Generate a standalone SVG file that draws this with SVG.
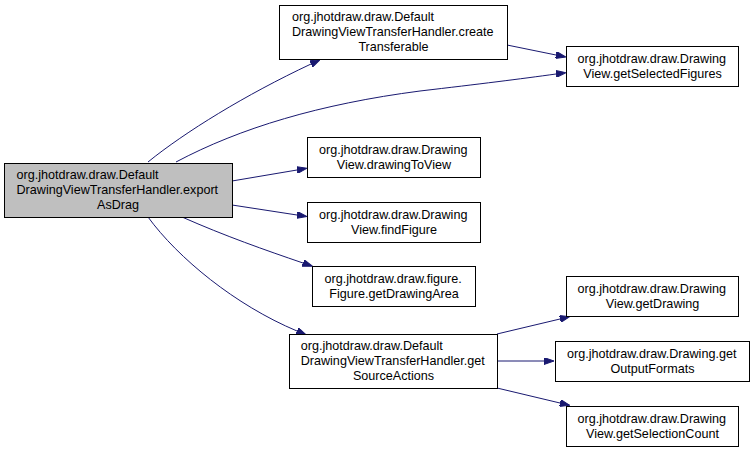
<svg xmlns="http://www.w3.org/2000/svg" width="755" height="453" viewBox="0 0 755 453">
<style>
.n rect{fill:#fff;stroke:#000;stroke-width:1}
.n.h rect{fill:#bfbfbf}
.n text{font-family:"Liberation Sans",Arial,Helvetica,sans-serif;font-size:12.6px;fill:#000;text-anchor:start}
.n text.c{text-anchor:middle}
.e path{fill:none;stroke:#191970;stroke-width:1;marker-end:url(#ah)}
</style>
<defs>
<marker id="ah" viewBox="0 0 10 7" refX="0" refY="3.5" markerWidth="10" markerHeight="7" orient="auto" markerUnits="userSpaceOnUse">
<path d="M0,0 L10,3.5 L0,7 Z" fill="#191970" stroke="#191970" stroke-width="1"/>
</marker>
</defs>
<g id="edges" class="e">
<path d="M148,162 C185,132 245,95 311,64"/>
<path d="M176,162 C240,128 320,104 420,91 C480,84 520,79 556,74"/>
<path d="M232,181 L297,170"/>
<path d="M232,205 L297,215"/>
<path d="M182,217 C225,236 265,250 303,263"/>
<path d="M148,217 C178,258 235,305 297,331"/>
<path d="M507,45 L556,55"/>
<path d="M497,334 L560,319"/>
<path d="M497,361 L544,361"/>
<path d="M497,388 L560,403"/>
</g>
<g id="exportAsDrag" class="n h">
<rect x="4.5" y="163.5" width="228" height="54"/>
<text x="16.5" y="179">org.jhotdraw.draw.Default</text>
<text x="16.5" y="194">DrawingViewTransferHandler.export</text>
<text class="c" x="118" y="209">AsDrag</text>
</g>
<g id="createTransferable" class="n">
<rect x="279.5" y="5.5" width="228" height="54"/>
<text x="292" y="21">org.jhotdraw.draw.Default</text>
<text x="292" y="36">DrawingViewTransferHandler.create</text>
<text class="c" x="393.5" y="51">Transferable</text>
</g>
<g id="getSelectedFigures" class="n">
<rect x="566.5" y="46.5" width="172" height="40"/>
<text x="577.6" y="63">org.jhotdraw.draw.Drawing</text>
<text class="c" x="652.5" y="78">View.getSelectedFigures</text>
</g>
<g id="drawingToView" class="n">
<rect x="307.5" y="137.5" width="173" height="40"/>
<text x="319" y="154">org.jhotdraw.draw.Drawing</text>
<text class="c" x="394" y="169">View.drawingToView</text>
</g>
<g id="findFigure" class="n">
<rect x="307.5" y="202.5" width="173" height="40"/>
<text x="319" y="219">org.jhotdraw.draw.Drawing</text>
<text class="c" x="394" y="234">View.findFigure</text>
</g>
<g id="getDrawingArea" class="n">
<rect x="312.5" y="266.5" width="163" height="40"/>
<text x="324.6" y="283">org.jhotdraw.draw.figure.</text>
<text class="c" x="394" y="298">Figure.getDrawingArea</text>
</g>
<g id="getSourceActions" class="n">
<rect x="289.5" y="334.5" width="208" height="54"/>
<text x="300.7" y="350">org.jhotdraw.draw.Default</text>
<text x="300.7" y="365">DrawingViewTransferHandler.get</text>
<text class="c" x="393.5" y="380">SourceActions</text>
</g>
<g id="getDrawing" class="n">
<rect x="566.5" y="276.5" width="172" height="40"/>
<text x="577.6" y="293">org.jhotdraw.draw.Drawing</text>
<text class="c" x="652.5" y="308">View.getDrawing</text>
</g>
<g id="getOutputFormats" class="n">
<rect x="555.5" y="341.5" width="194" height="40"/>
<text x="567" y="358">org.jhotdraw.draw.Drawing.get</text>
<text class="c" x="652.5" y="373">OutputFormats</text>
</g>
<g id="getSelectionCount" class="n">
<rect x="566.5" y="406.5" width="172" height="40"/>
<text x="577.6" y="423">org.jhotdraw.draw.Drawing</text>
<text class="c" x="652.5" y="438">View.getSelectionCount</text>
</g>
</svg>
